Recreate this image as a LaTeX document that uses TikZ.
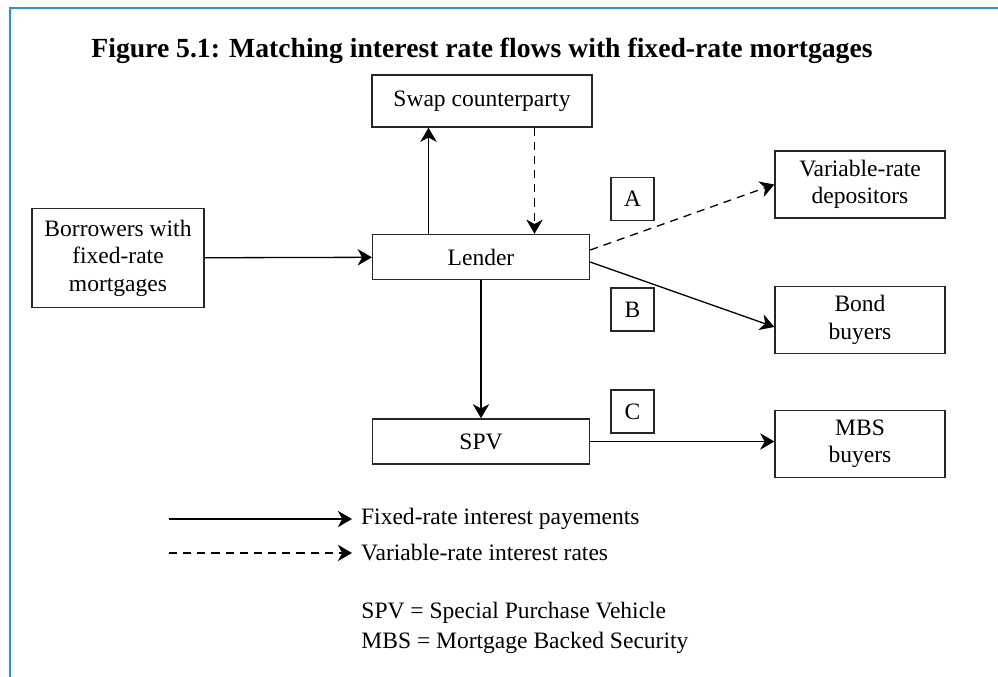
\documentclass[tikz,border=0pt]{standalone}
\usepackage{fontspec}
\setmainfont{Liberation Serif}
\usepackage{xcolor}
\usepackage{tikz}
\usetikzlibrary{arrows.meta}
\definecolor{frameblue}{RGB}{45,145,215}
\tikzset{
  every node/.style={font=\fontsize{10.8}{12.6}\selectfont},
  flowbox/.style={draw=black!85, line width=0.6pt, align=center, inner sep=1pt,
    minimum width=99.6pt, minimum height=20.7pt},
  sidebox/.style={flowbox, minimum width=78pt, minimum height=30.8pt},
  tagbox/.style={flowbox, minimum width=19.7pt, minimum height=19.7pt},
  titletext/.style={font=\fontsize{12.7}{15}\selectfont\bfseries, inner sep=0pt},
  fixedflow/.style={line width=0.6pt, -{Stealth[length=6.5pt, width=7.5pt, inset=2pt]}},
  varflow/.style={fixedflow, dash pattern=on 3.7pt off 2.8pt},
  legendtext/.style={inner xsep=4pt, inner ysep=1pt}
}

\begin{document}
\begin{tikzpicture}[x=0.459pt, y=-0.459pt]
        \useasboundingbox (0,0) rectangle (998,677);
        % Frame
        \draw[frameblue, line width=0.9pt] (998,8) -- (10,8) -- (10,677);

        % Define the positions of the nodes
        \node[titletext, anchor=base] (title) at (482,58) {Figure 5.1: Matching interest rate flows with fixed-rate mortgages};
        \node[flowbox, minimum width=101pt, minimum height=23.9pt] (swap) at (482,101) {Swap counterparty};
        \node[flowbox, minimum width=79pt, minimum height=45.4pt] (borrowers) at (118,258) {Borrowers with\\fixed-rate\\mortgages};
        \node[flowbox] (lender) at (481,257) {Lender};
        \node[flowbox] (spv) at (481,441.5) {SPV};
        \node[sidebox] (depositors) at (860,184.5) {Variable-rate\\depositors};
        \node[sidebox] (bond) at (860,320) {Bond\\buyers};
        \node[sidebox] (mbs) at (860,444) {MBS\\buyers};
        \node[tagbox] (tagA) at (632.5,199) {A};
        \node[tagbox] (tagB) at (632.5,309.5) {B};
        \node[tagbox] (tagC) at (632.5,411.5) {C};

        % Draw the edges
        \draw[fixedflow] (borrowers) -- (lender);
        \draw[fixedflow] ([xshift=-24.1pt]lender.north) -- ([xshift=-24.1pt]lender.north |- swap.south);
        \draw[varflow] ([xshift=24.1pt]swap.south) -- ([xshift=24.1pt]swap.south |- lender.north);
        \draw[varflow] ([yshift=3.2pt]lender.east) -- (depositors.west);
        \draw[fixedflow] ([yshift=-2.3pt]lender.east) -- ([yshift=-3.2pt]bond.west);
        \draw[fixedflow] (lender) -- (spv);
        \draw[fixedflow] (spv.east) -- (spv.east -| mbs.west);

        % Legend
        \coordinate (fixedstart) at (169,519);
        \coordinate (varstart) at (169,553);
        \node[legendtext, anchor=west] (fixedlabel) at (352,519) {Fixed-rate interest payements};
        \node[legendtext, anchor=west] (varlabel) at (352,553) {Variable-rate interest rates};
        \draw[fixedflow] (fixedstart) -- (fixedlabel.west);
        \draw[varflow] (varstart) -- (varlabel.west);
        \node[anchor=base west, inner sep=0pt] (spvnote) at (361,618) {SPV = Special Purchase Vehicle};
        \node[anchor=base west, inner sep=0pt] (mbsnote) at (361,648) {MBS = Mortgage Backed Security};
\end{tikzpicture}
\end{document}
